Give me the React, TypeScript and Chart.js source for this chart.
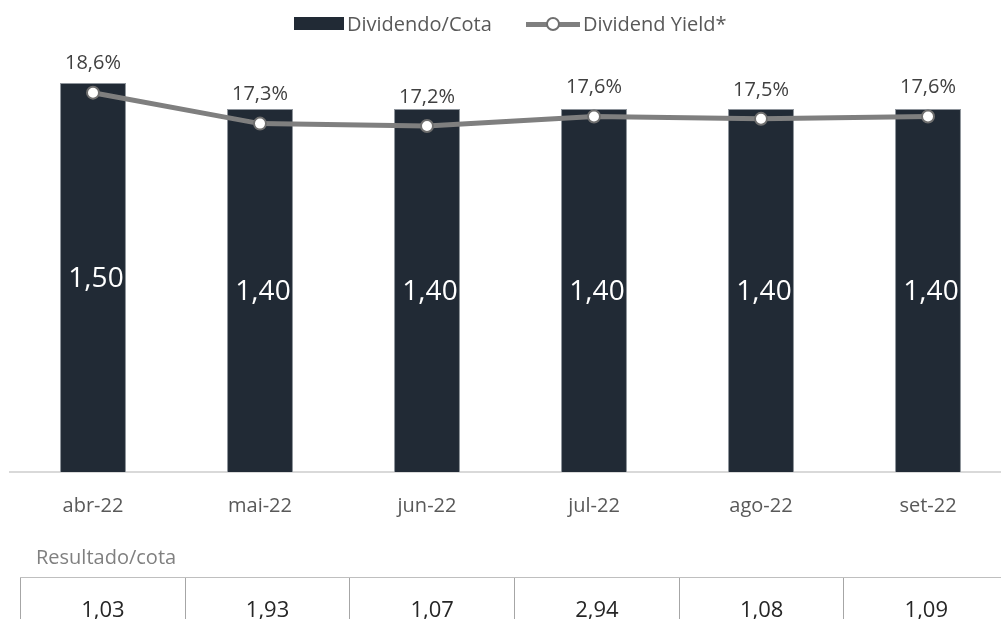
import React, { useEffect, useRef } from "react";
import { Chart, registerables } from "chart.js";

Chart.register(...registerables);

const categories = ["abr-22", "mai-22", "jun-22", "jul-22", "ago-22", "set-22"];
const dividendoCota = [1.5, 1.4, 1.4, 1.4, 1.4, 1.4];
const dividendYield = [18.6, 17.3, 17.2, 17.6, 17.5, 17.6];
const resultadoCota = [1.03, 1.93, 1.07, 2.94, 1.08, 1.09];

const FONT = "'Open Sans', 'Noto Sans', sans-serif";
const BAR_COLOR = "#212a35";
const LINE_COLOR = "#7f7f7f";

const fmt2 = (v: number) => v.toFixed(2).replace(".", ",");
const fmtPct = (v: number) => v.toFixed(1).replace(".", ",") + "%";

const labelPlugin = {
  id: "valueLabels",
  afterDatasetsDraw(chart: any) {
    const ctx = chart.ctx;
    ctx.save();
    const barMeta = chart.getDatasetMeta(0);
    ctx.font = `28px ${FONT}`;
    ctx.fillStyle = "#ffffff";
    ctx.textAlign = "center";
    ctx.textBaseline = "middle";
    barMeta.data.forEach((el: any, i: number) => {
      const p = el.getProps(["x", "y", "base"], true);
      ctx.fillText(fmt2(dividendoCota[i]), p.x + 3, (p.y + p.base) / 2 + 2);
    });
    const lineMeta = chart.getDatasetMeta(1);
    ctx.font = `20px ${FONT}`;
    ctx.fillStyle = "#404040";
    lineMeta.data.forEach((el: any, i: number) => {
      const p = el.getProps(["x", "y"], true);
      ctx.fillText(fmtPct(dividendYield[i]), p.x, p.y - 29);
    });
    ctx.restore();
  },
};

export default function App() {
  const ref = useRef<HTMLCanvasElement | null>(null);

  useEffect(() => {
    if (!ref.current) return;
    const chart = new Chart(ref.current, {
      type: "bar",
      data: {
        labels: categories,
        datasets: [
          {
            type: "bar",
            label: "Dividendo/Cota",
            data: dividendoCota,
            backgroundColor: BAR_COLOR,
            borderColor: "#8e949b",
            borderWidth: { left: 1, right: 1, top: 1, bottom: 0 },
            categoryPercentage: 1,
            barPercentage: 0.395,
            yAxisID: "y",
            order: 1,
          } as any,
          {
            type: "line",
            label: "Dividend Yield*",
            data: dividendYield,
            borderColor: LINE_COLOR,
            borderWidth: 5,
            pointRadius: 6,
            pointBorderWidth: 2,
            pointBackgroundColor: "#ffffff",
            pointBorderColor: "#6f6f6f",
            tension: 0,
            yAxisID: "y2",
            order: 0,
          } as any,
        ],
      },
      options: {
        responsive: true,
        maintainAspectRatio: false,
        animation: false,
        layout: { padding: { left: 9.5, right: 16.5, top: 57, bottom: 0 } },
        plugins: {
          legend: { display: false },
          tooltip: { enabled: false },
        },
        scales: {
          x: {
            offset: true,
            grid: { display: false, drawTicks: false },
            border: { display: true, color: "#d9d9d9", width: 2 },
            ticks: {
              color: "#595959",
              font: { family: FONT, size: 20 },
              padding: 22,
              maxRotation: 0,
            },
            afterFit: (scale: any) => {
              scale.height = 147;
            },
          },
          y: {
            display: false,
            min: 0,
            max: 1.6,
          },
          y2: {
            display: false,
            min: 2.65,
            max: 20.1,
          },
        },
      },
      plugins: [labelPlugin],
    });
    return () => chart.destroy();
  }, []);

  const cellW = 164.7;

  return (
    <div
      style={{
        position: "fixed",
        left: 0,
        top: 0,
        width: 1001,
        height: 619,
        overflow: "hidden",
        background: "#ffffff",
        fontFamily: FONT,
      }}
    >
      <div style={{ position: "absolute", left: 0, top: 0, width: 1028, height: 619 }}>
        <canvas ref={ref} />
      </div>
      {/* Legend */}
      <div style={{ position: "absolute", left: 294, top: 17, width: 50, height: 13, background: BAR_COLOR }} />
      <div
        style={{
          position: "absolute",
          left: 347,
          top: 10,
          fontSize: 20,
          lineHeight: "28px",
          color: "#595959",
          whiteSpace: "nowrap",
        }}
      >
        Dividendo/Cota
      </div>
      <div style={{ position: "absolute", left: 526, top: 21.5, width: 54, height: 5, background: LINE_COLOR }} />
      <div
        style={{
          position: "absolute",
          left: 546,
          top: 17,
          width: 10,
          height: 10,
          borderRadius: "50%",
          background: "#ffffff",
          border: "2px solid #6f6f6f",
        }}
      />
      <div
        style={{
          position: "absolute",
          left: 583,
          top: 10,
          fontSize: 20,
          lineHeight: "28px",
          color: "#595959",
          whiteSpace: "nowrap",
        }}
      >
        Dividend Yield*
      </div>
      {/* Table */}
      <div
        style={{
          position: "absolute",
          left: 36,
          top: 543,
          fontSize: 20,
          lineHeight: "28px",
          color: "#808080",
          whiteSpace: "nowrap",
        }}
      >
        Resultado/cota
      </div>
      <div
        style={{
          position: "absolute",
          left: 20,
          top: 577,
          width: cellW * resultadoCota.length,
          height: 60,
          borderTop: "1px solid #bfbfbf",
          display: "flex",
        }}
      >
        {resultadoCota.map((v, i) => (
          <div
            key={i}
            style={{
              width: cellW,
              flex: "0 0 auto",
              boxSizing: "border-box",
              borderLeft: "1px solid #a6a6a6",
              textAlign: "center",
              fontSize: 22,
              lineHeight: "30px",
              paddingTop: 15,
              color: "#262626",
            }}
          >
            {fmt2(v)}
          </div>
        ))}
      </div>
    </div>
  );
}
